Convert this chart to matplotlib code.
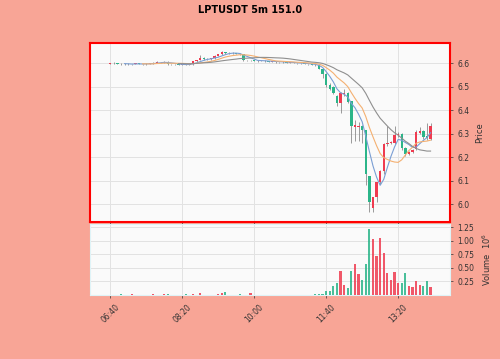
import numpy as np
import pandas as pd
import matplotlib
matplotlib.use('Agg')
import matplotlib.pyplot as plt
from matplotlib.patches import Rectangle

# 5m candles from 06:40 on
times = pd.date_range('2023-01-01 06:40', periods=90, freq='5min')

opens = [6.598, 6.600, 6.603, 6.598, 6.597, 6.599, 6.596, 6.598, 6.600, 6.598,
         6.597, 6.599, 6.600, 6.604, 6.607, 6.605, 6.608, 6.597, 6.596, 6.597,
         6.595, 6.596, 6.594, 6.597, 6.610, 6.615, 6.624, 6.620, 6.618, 6.622,
         6.633, 6.640, 6.648, 6.645, 6.646, 6.643, 6.641, 6.640, 6.615, 6.613,
         6.614, 6.612, 6.611, 6.612, 6.609, 6.608, 6.609, 6.606, 6.607, 6.605,
         6.603, 6.605, 6.602, 6.600, 6.601, 6.598, 6.597, 6.594, 6.592, 6.578,
         6.556, 6.510, 6.500, 6.463, 6.430, 6.470, 6.475, 6.440, 6.330, 6.330,
         6.335, 6.315, 6.120, 5.982, 6.030, 6.094, 6.140, 6.258, 6.263, 6.262,
         6.295, 6.300, 6.240, 6.215, 6.222, 6.235, 6.305, 6.312, 6.290, 6.280]
closes = [6.600, 6.603, 6.598, 6.597, 6.599, 6.596, 6.598, 6.600, 6.598, 6.597,
          6.599, 6.600, 6.604, 6.607, 6.605, 6.608, 6.597, 6.596, 6.597, 6.595,
          6.596, 6.594, 6.597, 6.610, 6.615, 6.624, 6.620, 6.618, 6.622, 6.633,
          6.640, 6.648, 6.645, 6.644, 6.643, 6.641, 6.640, 6.615, 6.613, 6.614,
          6.612, 6.611, 6.612, 6.609, 6.608, 6.609, 6.606, 6.607, 6.605, 6.603,
          6.605, 6.602, 6.600, 6.601, 6.598, 6.597, 6.594, 6.592, 6.578, 6.556,
          6.507, 6.493, 6.473, 6.430, 6.473, 6.475, 6.437, 6.335, 6.337, 6.335,
          6.315, 6.130, 6.010, 6.030, 6.094, 6.140, 6.258, 6.263, 6.266, 6.295,
          6.300, 6.240, 6.215, 6.222, 6.232, 6.310, 6.312, 6.285, 6.282, 6.335]
highs = [6.601, 6.605, 6.604, 6.600, 6.601, 6.600, 6.599, 6.602, 6.601, 6.599,
         6.600, 6.602, 6.606, 6.609, 6.608, 6.610, 6.609, 6.598, 6.599, 6.598,
         6.598, 6.597, 6.599, 6.612, 6.617, 6.635, 6.626, 6.622, 6.624, 6.635,
         6.642, 6.652, 6.650, 6.647, 6.647, 6.645, 6.643, 6.641, 6.616, 6.616,
         6.615, 6.613, 6.614, 6.613, 6.610, 6.611, 6.610, 6.608, 6.609, 6.606,
         6.607, 6.606, 6.603, 6.603, 6.602, 6.599, 6.598, 6.596, 6.594, 6.580,
         6.558, 6.515, 6.505, 6.466, 6.480, 6.490, 6.478, 6.442, 6.360, 6.350,
         6.338, 6.318, 6.122, 6.032, 6.097, 6.145, 6.262, 6.335, 6.270, 6.335,
         6.310, 6.302, 6.243, 6.226, 6.236, 6.315, 6.330, 6.315, 6.345, 6.345]
lows = [6.596, 6.598, 6.596, 6.594, 6.595, 6.593, 6.594, 6.596, 6.596, 6.594,
        6.595, 6.597, 6.598, 6.602, 6.603, 6.603, 6.595, 6.593, 6.594, 6.593,
        6.593, 6.592, 6.592, 6.595, 6.608, 6.613, 6.617, 6.615, 6.616, 6.620,
        6.630, 6.638, 6.642, 6.641, 6.640, 6.639, 6.637, 6.612, 6.610, 6.611,
        6.609, 6.608, 6.609, 6.607, 6.606, 6.606, 6.604, 6.604, 6.603, 6.601,
        6.601, 6.600, 6.598, 6.598, 6.596, 6.595, 6.592, 6.590, 6.575, 6.540,
        6.500, 6.485, 6.468, 6.420, 6.390, 6.460, 6.430, 6.260, 6.270, 6.270,
        6.260, 6.080, 5.965, 5.965, 6.010, 6.085, 6.130, 6.250, 6.255, 6.255,
        6.288, 6.230, 6.205, 6.210, 6.218, 6.230, 6.300, 6.278, 6.275, 6.275]
# volume in units of 1e6
volumes = [0.01, 0.01, 0.01, 0.02, 0.01, 0.01, 0.02, 0.01, 0.01, 0.01,
           0.01, 0.01, 0.02, 0.01, 0.01, 0.02, 0.02, 0.01, 0.01, 0.01,
           0.01, 0.02, 0.01, 0.02, 0.01, 0.03, 0.01, 0.01, 0.01, 0.01,
           0.02, 0.04, 0.06, 0.01, 0.01, 0.01, 0.02, 0.01, 0.01, 0.03,
           0.01, 0.01, 0.01, 0.01, 0.01, 0.01, 0.01, 0.01, 0.01, 0.01,
           0.01, 0.01, 0.01, 0.01, 0.01, 0.01, 0.01, 0.02, 0.02, 0.02,
           0.08, 0.07, 0.17, 0.22, 0.44, 0.19, 0.13, 0.45, 0.58, 0.38,
           0.27, 0.57, 1.22, 1.03, 0.72, 1.05, 0.78, 0.41, 0.27, 0.42,
           0.22, 0.22, 0.40, 0.17, 0.15, 0.25, 0.18, 0.17, 0.26, 0.14]
mav_periods = [5, 10, 20]
mav_colors = ['#7a9ed4', '#f4b071', '#8f8f8f']
tick_idx = [0, 20, 40, 60, 80]

up_col = '#ef3b50'
down_col = '#2bb589'
bg = '#f8a596'

x = np.arange(len(times))
o = np.array(opens); c = np.array(closes)
cols = [up_col if cc >= oo else down_col for oo, cc in zip(o, c)]

fig = plt.figure(figsize=(5, 3.59), dpi=100, facecolor=bg)
ax = fig.add_axes([0.18, 0.382, 0.72, 0.498])
axv = fig.add_axes([0.18, 0.178, 0.72, 0.198], sharex=ax)

for a in (ax, axv):
    a.set_facecolor('#fafafa')
    a.grid(True, color='#e2e2e2', lw=0.7)
    a.set_axisbelow(True)
    a.yaxis.tick_right()
    a.yaxis.set_label_position('right')
    a.tick_params(labelsize=5.5, length=2, width=0.5, colors='#333333')

# candles
ax.vlines(x, lows, highs, color='#8a8a8a', lw=0.6, zorder=2)
for i in x:
    lo = min(o[i], c[i]); h = max(abs(c[i] - o[i]), 0.0015)
    ax.add_patch(Rectangle((i - 0.33, lo), 0.66, h, color=cols[i], lw=0, zorder=3))

s = pd.Series(closes)
for p, col in zip(mav_periods, mav_colors):
    ax.plot(x, s.rolling(p).mean(), color=col, lw=0.8, zorder=4)

ax.set_xlim(-5.6, 94.4)
ax.set_ylim(5.925, 6.687)
ax.set_yticks([6.0, 6.1, 6.2, 6.3, 6.4, 6.5, 6.6])
ax.set_ylabel('Price', fontsize=6, color='#333333')
for sp in ax.spines.values():
    sp.set_color('red')
    sp.set_linewidth(1.5)
plt.setp(ax.get_xticklabels(), visible=False)

axv.bar(x, volumes, width=0.6, color=cols, alpha=0.85, zorder=3)
axv.set_ylim(0, 1.305)
axv.set_yticks([0.25, 0.5, 0.75, 1.0, 1.25])
axv.set_ylabel('Volume  $10^{6}$', fontsize=6, color='#333333')
for sp in axv.spines.values():
    sp.set_color('#dff3f7')
axv.set_xticks(tick_idx)
axv.set_xticklabels([times[i].strftime('%H:%M') for i in tick_idx], rotation=45, ha='center')

fig.suptitle('LPTUSDT 5m 151.0', fontsize=7, fontweight='bold', y=0.985)
fig.savefig('out.png', dpi=100, facecolor=bg)
